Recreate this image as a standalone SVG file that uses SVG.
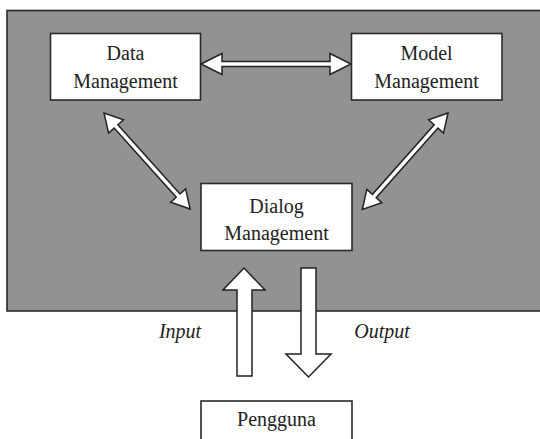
<svg xmlns="http://www.w3.org/2000/svg" width="540" height="439" viewBox="0 0 540 439">
<style>
.box{fill:#fff;stroke:#2a2a2a;stroke-width:1.6}
.t{font-size:20px;fill:#222;text-anchor:middle}
.ti{font-size:20px;font-style:italic;fill:#222;text-anchor:middle}
.arr{fill:#fff;stroke:#222;stroke-width:1.5;stroke-linejoin:miter}
</style>
<rect width="540" height="439" fill="#fff"/>
<rect id="panel" x="7" y="10.5" width="540" height="300.5" fill="#929292" stroke="#2a2a2a" stroke-width="1.6"/>
<g id="connectors">
<polygon class="arr" points="201,64 222,53.5 222,61.5 330,61.5 330,53.5 351,64 330,74.5 330,66.5 222,66.5 222,74.5"/>
<polygon class="arr" transform="translate(104,113) rotate(48.1)" points="0,0 18,-10 18,-2.5 111,-2.5 111,-10 129,0 111,10 111,2.5 18,2.5 18,10"/>
<polygon class="arr" transform="translate(448,113) rotate(131.6)" points="0,0 18,-10 18,-2.5 111,-2.5 111,-10 129,0 111,10 111,2.5 18,2.5 18,10"/>
<polygon class="arr" points="244,268 265,290 252,290 252,376 237,376 237,290 223,290"/>
<polygon class="arr" points="301,268 316,268 316,354 331,354 308.5,377 286,354 301,354"/>
</g>
<g font-family="Liberation Serif, Times New Roman, DejaVu Serif, serif">
<g id="data">
<rect class="box" x="50.5" y="33.5" width="150" height="66.5"/>
<text class="t" x="125.5" y="60">Data</text>
<text class="t" x="125.5" y="88">Management</text>
</g>
<g id="model">
<rect class="box" x="351.5" y="33.5" width="150.5" height="66.5"/>
<text class="t" x="426.5" y="60">Model</text>
<text class="t" x="426.5" y="88">Management</text>
</g>
<g id="dialog">
<rect class="box" x="201" y="183.5" width="151" height="67"/>
<text class="t" x="276.5" y="213">Dialog</text>
<text class="t" x="276.5" y="240">Management</text>
</g>
<g id="pengguna">
<rect class="box" x="201" y="401" width="151" height="50"/>
<text class="t" x="276.5" y="426">Pengguna</text>
</g>
<text class="ti" x="180" y="338">Input</text>
<text class="ti" x="382" y="338">Output</text>
</g>
</svg>
